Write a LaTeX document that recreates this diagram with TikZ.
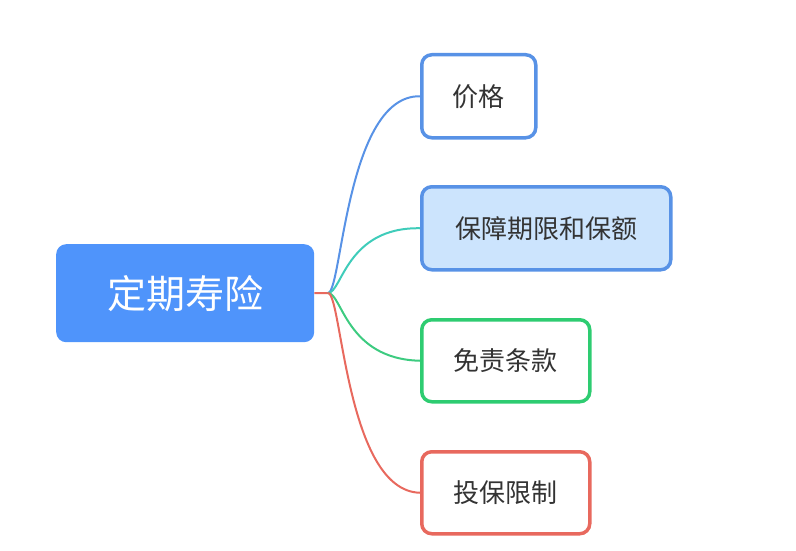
\documentclass[tikz,border=0pt]{standalone}
\usepackage{fontspec}
\setmainfont{Noto Sans CJK SC}
\definecolor{rootblue}{HTML}{4F94FB}
\definecolor{bblue}{HTML}{5892E6}
\definecolor{lblue}{HTML}{CCE4FD}
\definecolor{lteal}{HTML}{3FCCBA}
\definecolor{bgreen}{HTML}{2ECC71}
\definecolor{lgreen}{HTML}{3DCB80}
\definecolor{bred}{HTML}{E8695E}
\definecolor{txt}{HTML}{333333}
\begin{document}
\begin{tikzpicture}[x=1pt,y=-1pt,
  leaf/.style={draw, line width=3.5pt, rounded corners=10pt, fill=white, text=txt, font=\fontsize{26}{30}\selectfont, anchor=north west, inner sep=0pt},
  conn/.style={line width=2pt}]
\useasboundingbox (0,0) rectangle (796,551);
\node[fill=rootblue, rounded corners=10pt, minimum width=258pt, minimum height=98pt, text=white, font=\fontsize{39}{44}\selectfont, anchor=north west, inner sep=0pt] (root) at (56,244) {定期寿险};
\coordinate (hub) at (328,293);
\draw[bred, conn] (root.east) -- (hub);
\node[leaf, draw=bblue, minimum width=114pt, minimum height=83pt] (a) at (420,53) {价格};
\node[leaf, draw=bblue, fill=lblue, minimum width=249pt, minimum height=83pt] (b) at (420,185) {保障期限和保额};
\node[leaf, draw=bgreen, minimum width=168pt, minimum height=82pt] (c) at (420,318) {免责条款};
\node[leaf, draw=bred, minimum width=168pt, minimum height=82pt] (d) at (420,450) {投保限制};
\draw[bblue, conn] (hub) .. controls (342,293) and (346,95) .. (a.west);
\draw[lteal, conn] (hub) .. controls (342,293) and (346,227) .. (b.west);
\draw[lgreen, conn] (hub) .. controls (342,293) and (346,359) .. (c.west);
\draw[bred, conn] (hub) .. controls (342,293) and (346,491) .. (d.west);
\end{tikzpicture}
\end{document}
